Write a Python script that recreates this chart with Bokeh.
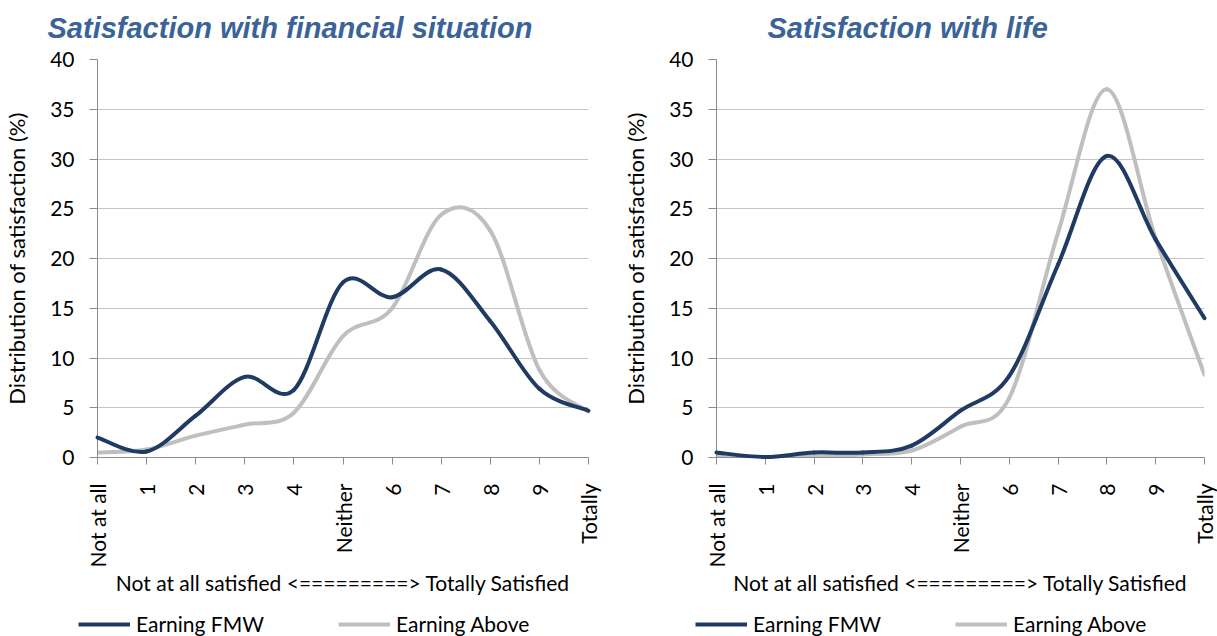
import math
import numpy as np
from bokeh.plotting import figure
from bokeh.layouts import row, column
from bokeh.models import (Range1d, FixedTicker, Legend, LegendItem, Label)
from bokeh.embed import file_html
from bokeh.resources import INLINE

# ---- data ----
categories = ["Not at all", "1", "2", "3", "4", "Neither", "6", "7", "8", "9", "Totally"]
positions = list(range(len(categories)))

fin_fmw = [2.0, 0.6, 4.2, 8.1, 6.8, 17.6, 16.1, 18.9, 13.7, 6.9, 4.7]
fin_above = [0.5, 0.8, 2.2, 3.3, 4.5, 12.2, 15.0, 24.4, 22.8, 8.8, 4.6]

life_fmw = [0.5, 0.05, 0.5, 0.5, 1.2, 4.7, 8.2, 19.4, 30.3, 21.9, 14.0]
life_above = [0.1, 0.05, 0.1, 0.3, 0.7, 3.1, 6.0, 22.6, 37.0, 22.0, 8.3]

series_names = ["Earning FMW", "Earning Above"]
y_ticks = [0, 5, 10, 15, 20, 25, 30, 35, 40]

titles = ["Satisfaction with financial situation", "Satisfaction with life"]
y_label = "Distribution of satisfaction (%)"
x_label = "Not at all satisfied <=========> Totally Satisfied"

NAVY = "#1F3B64"
GRAY = "#BFBFBF"
TITLE_COLOR = "#3A6398"
FONT = "Lato"
FS = "21px"
COLORS = [NAVY, GRAY]

TITLE_H = 46
CHART_H = 564
LEGEND_H = 26


def smooth_segments(xs, ys):
    """Excel-like smoothed line: Catmull-Rom converted to cubic Bezier segments."""
    x = np.asarray(xs, dtype=float)
    y = np.asarray(ys, dtype=float)
    n = len(x)
    xp = np.concatenate([[x[0]], x, [x[-1]]])
    yp = np.concatenate([[y[0]], y, [y[-1]]])
    i = np.arange(n - 1)
    x0, y0 = x[:-1], y[:-1]
    x1, y1 = x[1:], y[1:]
    cx0 = x0 + (xp[i + 2] - xp[i]) / 6.0
    cy0 = y0 + (yp[i + 2] - yp[i]) / 6.0
    cx1 = x1 - (xp[i + 3] - xp[i + 1]) / 6.0
    cy1 = y1 - (yp[i + 3] - yp[i + 1]) / 6.0
    return dict(x0=x0, y0=y0, x1=x1, y1=y1, cx0=cx0, cy0=cy0, cx1=cx1, cy1=cy1)


def blank_strip(width, height):
    f = figure(width=width, height=height, output_backend="svg", toolbar_location=None,
               x_axis_type=None, y_axis_type=None,
               x_range=Range1d(0, width), y_range=Range1d(0, height),
               min_border=0, min_border_left=0, min_border_right=0,
               min_border_top=0, min_border_bottom=0)
    f.outline_line_color = None
    f.xgrid.grid_line_color = None
    f.ygrid.grid_line_color = None
    return f


def make_title_strip(width, text, text_x):
    f = blank_strip(width, TITLE_H)
    f.add_layout(Label(x=text_x, y=TITLE_H - 27, text=text, text_align="left",
                       text_baseline="middle", text_font="Liberation Sans",
                       text_font_style="bold italic", text_font_size="29px",
                       text_color=TITLE_COLOR))
    return f


def make_panel(fmw, above, width, border_left, border_right):
    p = figure(width=width, height=CHART_H, output_backend="svg", toolbar_location=None,
               x_range=Range1d(0, 10), y_range=Range1d(0, 40),
               min_border_left=border_left, min_border_right=border_right,
               min_border_top=59 - TITLE_H, min_border_bottom=153, title=None)
    p.outline_line_color = None
    p.background_fill_color = "white"
    p.border_fill_color = "white"

    renderers = []
    for ys, color in ((fmw, NAVY), (above, GRAY)):
        seg = smooth_segments(positions, ys)
        r = p.bezier(source=seg, x0="x0", y0="y0", x1="x1", y1="y1",
                     cx0="cx0", cy0="cy0", cx1="cx1", cy1="cy1",
                     line_color=color, line_width=4, line_cap="round")
        renderers.append(r)
    renderers[0].level = "overlay"

    xa = p.xaxis[0]
    xa.ticker = FixedTicker(ticks=positions)
    xa.major_label_overrides = {pos: lab for pos, lab in zip(positions, categories)}
    xa.major_label_orientation = math.pi / 2
    xa.major_tick_out = 7
    xa.major_tick_in = 0
    xa.minor_tick_line_color = None
    xa.axis_line_color = "#8C8C8C"
    xa.major_tick_line_color = "#8C8C8C"
    xa.major_label_text_font = FONT
    xa.major_label_text_font_size = FS
    xa.major_label_text_color = "black"
    xa.major_label_standoff = 19
    xa.axis_label = x_label
    xa.axis_label_text_font = FONT
    xa.axis_label_text_font_size = FS
    xa.axis_label_text_font_style = "normal"
    xa.axis_label_text_color = "black"
    xa.axis_label_standoff = 0

    ya = p.yaxis[0]
    ya.ticker = FixedTicker(ticks=y_ticks)
    ya.major_tick_out = 8
    ya.major_tick_in = 0
    ya.minor_tick_line_color = None
    ya.axis_line_color = "#8C8C8C"
    ya.major_tick_line_color = "#8C8C8C"
    ya.major_label_text_font = FONT
    ya.major_label_text_font_size = FS
    ya.major_label_text_color = "black"
    ya.major_label_standoff = 15
    ya.axis_label = y_label
    ya.axis_label_text_font = FONT
    ya.axis_label_text_font_size = "22px"
    ya.axis_label_text_font_style = "normal"
    ya.axis_label_text_color = "black"
    ya.axis_label_standoff = 17

    p.xgrid.grid_line_color = None
    p.ygrid.grid_line_color = "#C4C4C4"
    p.ygrid.grid_line_width = 1
    p.ygrid.ticker = FixedTicker(ticks=y_ticks)
    return p


def make_legend_strip(width, legend_x, series):
    # the series are drawn here only to provide legend swatches; the view range keeps them hidden
    lf = figure(width=width, height=LEGEND_H, output_backend="svg", toolbar_location=None,
                x_axis_type=None, y_axis_type=None,
                x_range=Range1d(0, 10), y_range=Range1d(-200, -100),
                min_border=0, min_border_left=0, min_border_right=0,
                min_border_top=0, min_border_bottom=0)
    lf.outline_line_color = None
    lf.xgrid.grid_line_color = None
    lf.ygrid.grid_line_color = None
    rs = [lf.line(x=positions, y=ys, line_color=c, line_width=4)
          for ys, c in zip(series, COLORS)]
    legend = Legend(items=[LegendItem(label=n, renderers=[r]) for n, r in zip(series_names, rs)],
                    orientation="horizontal", location=(legend_x, 0),
                    glyph_width=52, glyph_height=20, label_standoff=6, spacing=74,
                    padding=0, margin=0, border_line_color=None,
                    background_fill_alpha=0, label_text_font=FONT,
                    label_text_font_size=FS, label_text_color="black")
    lf.add_layout(legend, "center")
    return lf


title_left = make_title_strip(608, titles[0], 47)
title_right = make_title_strip(609, titles[1], 159)
left = make_panel(fin_fmw, fin_above, width=608, border_left=97, border_right=20)
right = make_panel(life_fmw, life_above, width=609, border_left=108, border_right=13)
leg_left = make_legend_strip(608, 78, (fin_fmw, fin_above))
leg_right = make_legend_strip(609, 87, (life_fmw, life_above))

layout = column(row(title_left, title_right, spacing=0),
                row(left, right, spacing=0),
                row(leg_left, leg_right, spacing=0), spacing=0)
open("out.html", "w").write(file_html(layout, INLINE))
